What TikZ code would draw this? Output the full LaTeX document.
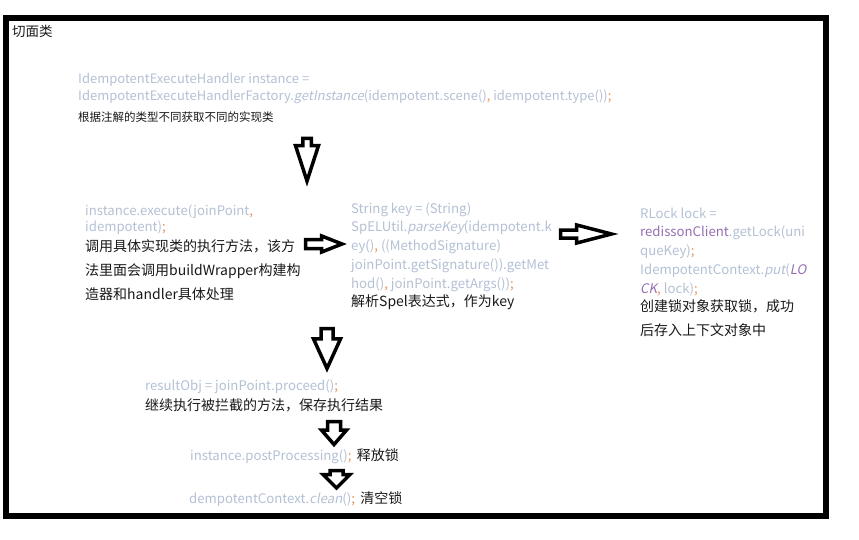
\documentclass[tikz,border=0pt]{standalone}
\usepackage{fontspec}
\setmainfont{Noto Sans CJK SC}[AutoFakeSlant=0.2]
\usepackage{xcolor}
\usepackage{tikz}
\usetikzlibrary{shapes.arrows, positioning}

\definecolor{codegrey}{RGB}{180,192,212}
\definecolor{punctorange}{RGB}{232,150,90}
\definecolor{fieldpurple}{RGB}{150,110,178}
\definecolor{notetext}{RGB}{25,25,25}

\newcommand{\osemi}{\textcolor{punctorange}{;}}
\newcommand{\ocomma}{\textcolor{punctorange}{,}}
\newcommand{\pfield}[1]{\textcolor{fieldpurple}{#1}}

\begin{document}
\begin{tikzpicture}[
  x=1pt, y=-1pt,
  code/.style={
    anchor=base west, inner sep=0pt, align=left,
    text=codegrey, font=\fontsize{13.2}{18.7}\selectfont,
  },
  note/.style={
    anchor=base west, inner sep=0pt, align=left,
    text=notetext, font=\fontsize{14}{24}\selectfont,
  },
  blockarr/.style={
    single arrow, draw=black, line width=3.5pt, fill=white,
    inner xsep=0pt, minimum width=0pt, anchor=tail,
  },
]
\useasboundingbox (0,0) rectangle (859,540);

% ---- Frame ----
\node[draw, line width=6pt, minimum width=820pt, minimum height=498pt,
      inner sep=0pt] (aspect) at (416,267) {};
\node[note, font=\fontsize{13.5}{16}\selectfont] (title) at (12,37) {切面类};

% ---- Handler factory ---- (nodes sit on the baseline of their last line)
\node[code, font=\fontsize{13}{17}\selectfont] (factoryCode) at (78,101) {%
  IdempotentExecuteHandler instance =\\
  IdempotentExecuteHandlerFactory.\textit{getInstance}(idempotent.scene()\ocomma{} idempotent.type())\osemi};
\node[note, font=\fontsize{11.5}{14}\selectfont] (factoryNote) at (78,122)
  {根据注解的类型不同获取不同的实现类};

% ---- Execute ----
\node[code, font=\fontsize{13.2}{16.5}\selectfont] (execCode) at (85,232) {%
  instance.execute(joinPoint\ocomma\\
  idempotent)\osemi};
\node[note] (execNote) at (85,299) {%
  调用具体实现类的执行方法，该方\\
  法里面会调用buildWrapper构建构\\
  造器和handler具体处理};

% ---- Key ----
\node[code] (keyCode) at (351,288) {%
  String key = (String)\\
  SpELUtil.\textit{parseKey}(idempotent.k\\
  ey()\ocomma{} ((MethodSignature)\\
  joinPoint.getSignature()).getMet\\
  hod()\ocomma{} joinPoint.getArgs())\osemi};
\node[note] (keyNote) at (351,306) {解析Spel表达式，作为key};

% ---- Lock ----
\node[code] (lockCode) at (640,293) {%
  RLock lock =\\
  \pfield{redissonClient}.getLock(uni\\
  queKey)\osemi\\
  IdempotentContext.\textit{put}(\pfield{\textit{LO}}\\
  \pfield{\textit{CK}}\ocomma{} lock)\osemi};
\node[note] (lockNote) at (640,335) {%
  创建锁对象获取锁，成功\\
  后存入上下文对象中};

% ---- Proceed / release / clean ----
\node[code] (proceedCode) at (145,390) {resultObj = joinPoint.proceed()\osemi};
\node[note] (proceedNote) at (145,410) {继续执行被拦截的方法，保存执行结果};

\node[code] (releaseCode) at (190,460) {instance.postProcessing()\osemi};
\node[note, right=5pt of releaseCode.base east, anchor=base west] (releaseNote) {释放锁};

\node[code] (cleanCode) at (189,503) {dempotentContext.\textit{clean}()\osemi};
\node[note, right=5pt of cleanCode.base east, anchor=base west] (cleanNote) {清空锁};

% ---- Block arrows ----
\node[blockarr, rotate=-90, minimum height=42.5pt, inner ysep=2.5pt,
      single arrow head extend=7.25pt, single arrow tip angle=36]
      (arrFactory) at (307,136.75) {};
\node[blockarr, minimum height=36.5pt, inner ysep=2.75pt,
      single arrow head extend=3.5pt, single arrow tip angle=43]
      (arrKey) at (303.75,244) {};
\node[blockarr, minimum height=51pt, inner ysep=2.25pt,
      single arrow head extend=5pt, single arrow tip angle=29]
      (arrLock) at (558.75,234) {};
\node[blockarr, rotate=-90, minimum height=40pt, inner ysep=4.25pt,
      single arrow head extend=7.5pt, single arrow tip angle=49]
      (arrProceed) at (327,326.75) {};
\node[blockarr, rotate=-90, minimum height=23pt, inner ysep=4.75pt,
      single arrow head extend=6pt, single arrow tip angle=82]
      (arrRelease) at (334,419.75) {};
\node[blockarr, rotate=-90, minimum height=17.5pt, inner ysep=4.75pt,
      single arrow head extend=7pt, single arrow tip angle=90]
      (arrClean) at (336.5,468.75) {};

\end{tikzpicture}
\end{document}
